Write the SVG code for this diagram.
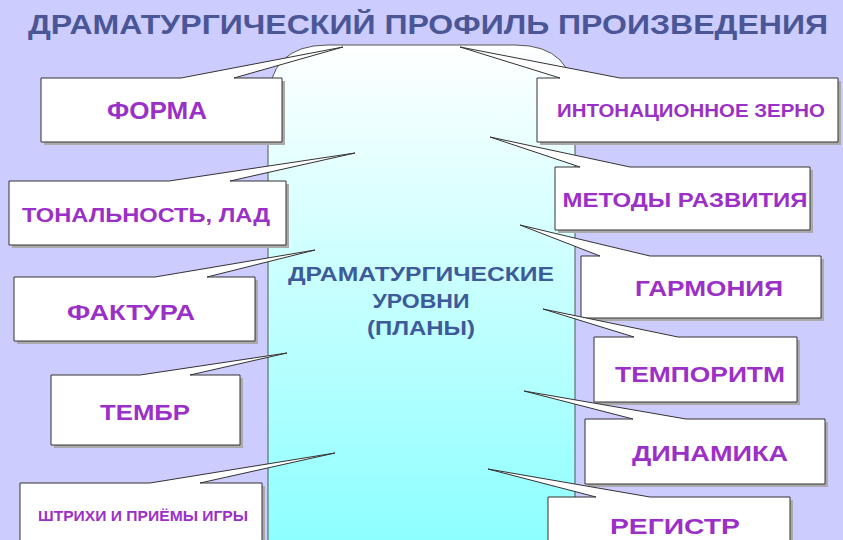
<svg xmlns="http://www.w3.org/2000/svg" width="843" height="540" viewBox="0 0 843 540">
<defs>
<linearGradient id="g" x1="0" y1="0" x2="0" y2="1">
<stop offset="0" stop-color="#ffffff"/>
<stop offset="1" stop-color="#80ffff"/>
</linearGradient>
</defs>
<style>
.c{fill:#fff;stroke:#333;stroke-width:1}
.s{fill:#aaa;stroke:none}
.t{font-family:"Liberation Sans",Arial,sans-serif;font-weight:bold;fill:#9b30c8;text-anchor:middle;lengthAdjust:spacingAndGlyphs}
.m{font-family:"Liberation Sans",Arial,sans-serif;font-weight:bold;fill:#3d5a9a;text-anchor:middle;font-size:20px}
</style>
<rect width="843" height="540" fill="#ccccff"/>
<text x="428" y="34" font-family="Liberation Sans,Arial,sans-serif" font-weight="bold" font-size="27" fill="#4a5696" text-anchor="middle" textLength="800" lengthAdjust="spacingAndGlyphs">ДРАМАТУРГИЧЕСКИЙ ПРОФИЛЬ ПРОИЗВЕДЕНИЯ</text>
<g id="center">
<path d="M268,600 V105 Q268,45 328,45 H515 Q575,45 575,105 V600 Z" fill="url(#g)" stroke="#555" stroke-width="1"/>
<text class="m" x="421" y="281" textLength="266" lengthAdjust="spacingAndGlyphs">ДРАМАТУРГИЧЕСКИЕ</text>
<text class="m" x="421" y="308" textLength="97" lengthAdjust="spacingAndGlyphs">УРОВНИ</text>
<text class="m" x="421" y="335" textLength="108" lengthAdjust="spacingAndGlyphs">(ПЛАНЫ)</text>
</g>
<g id="connectors"></g>
<g id="forma"><path class="s" d="M44,81 H285 V145 H44 Z"/><path class="c" d="M41,78 H181 L343,47 L234,78 H282 V142 H41 Z"/><text class="t" x="157" y="119" font-size="23" textLength="100" lengthAdjust="spacingAndGlyphs">ФОРМА</text></g>
<g id="ton"><path class="s" d="M12,184 H289 V248 H12 Z"/><path class="c" d="M9,181 H169 L355,153 L230,181 H286 V245 H9 Z"/><text class="t" x="146" y="222" font-size="21" textLength="248" lengthAdjust="spacingAndGlyphs">ТОНАЛЬНОСТЬ, ЛАД</text></g>
<g id="faktura"><path class="s" d="M17,280 H258 V344 H17 Z"/><path class="c" d="M14,277 H155 L315,250 L207,277 H255 V341 H14 Z"/><text class="t" x="131" y="320" font-size="22" textLength="128" lengthAdjust="spacingAndGlyphs">ФАКТУРА</text></g>
<g id="timbre"><path class="s" d="M54,378 H243 V448 H54 Z"/><path class="c" d="M51,375 H140 L287,353 L190,375 H240 V445 H51 Z"/><text class="t" x="145" y="420" font-size="22" textLength="90" lengthAdjust="spacingAndGlyphs">ТЕМБР</text></g>
<g id="shtrihi"><path class="s" d="M23,486 H265 V545 H23 Z"/><path class="c" d="M20,483 H150 L335,453 L200,483 H262 V545 H20 Z"/><text class="t" x="143" y="521" font-size="15" textLength="210" lengthAdjust="spacingAndGlyphs">ШТРИХИ И ПРИЁМЫ ИГРЫ</text></g>
<g id="intonation"><path class="s" d="M540,81 H841 V145 H540 Z"/><path class="c" d="M537,78 H560 L460,47 L620,78 H838 V142 H537 Z"/><text class="t" x="691" y="117" font-size="18" textLength="268" lengthAdjust="spacingAndGlyphs">ИНТОНАЦИОННОЕ ЗЕРНО</text></g>
<g id="methods"><path class="s" d="M558,170 H813 V233 H558 Z"/><path class="c" d="M555,167 H580 L490,137 L630,167 H810 V230 H555 Z"/><text class="t" x="685" y="207" font-size="21" textLength="245" lengthAdjust="spacingAndGlyphs">МЕТОДЫ РАЗВИТИЯ</text></g>
<g id="harmony"><path class="s" d="M584,259 H824 V321 H584 Z"/><path class="c" d="M581,256 H600 L520,225 L650,256 H821 V318 H581 Z"/><text class="t" x="709" y="296" font-size="22" textLength="148" lengthAdjust="spacingAndGlyphs">ГАРМОНИЯ</text></g>
<g id="tempo"><path class="s" d="M597,340 H800 V405 H597 Z"/><path class="c" d="M594,337 H634 L543,309 L678,337 H797 V402 H594 Z"/><text class="t" x="700" y="382" font-size="22" textLength="170" lengthAdjust="spacingAndGlyphs">ТЕМПОРИТМ</text></g>
<g id="dynamics"><path class="s" d="M588,422 H828 V487 H588 Z"/><path class="c" d="M585,419 H633 L524,391 L686,419 H825 V484 H585 Z"/><text class="t" x="710" y="461" font-size="22" textLength="156" lengthAdjust="spacingAndGlyphs">ДИНАМИКА</text></g>
<g id="register"><path class="s" d="M551,500 H793 V545 H551 Z"/><path class="c" d="M548,497 H596 L488,469 L650,497 H790 V545 H548 Z"/><text class="t" x="675" y="534" font-size="22" textLength="130" lengthAdjust="spacingAndGlyphs">РЕГИСТР</text></g>
</svg>
